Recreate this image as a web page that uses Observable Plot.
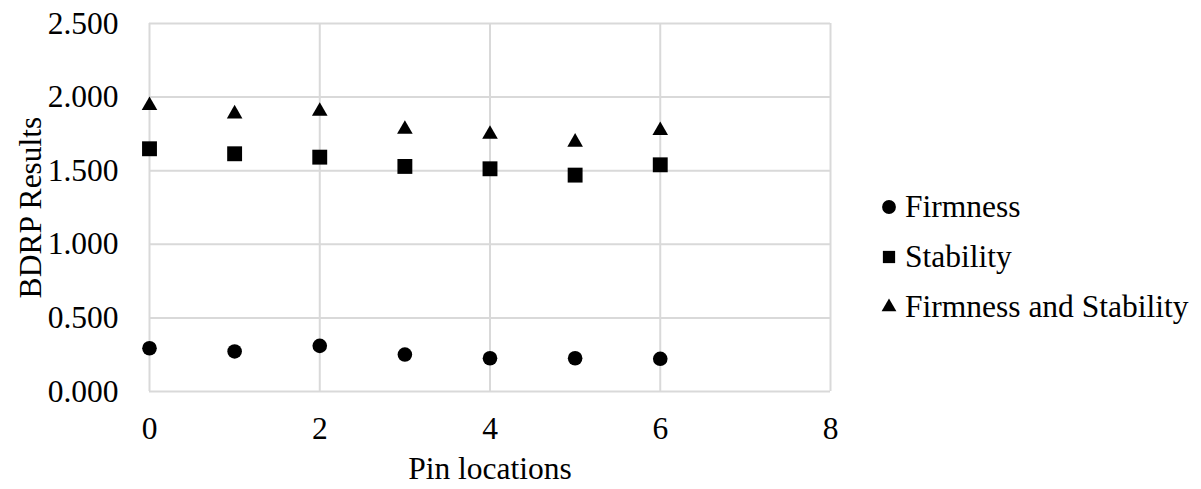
<!DOCTYPE html>
<html>
<head>
<meta charset="utf-8">
<script src="https://cdn.jsdelivr.net/npm/d3@7"></script>
<script src="https://cdn.jsdelivr.net/npm/@observablehq/plot@0.6"></script>
<style>
  html, body { margin: 0; padding: 0; background: #fff; }
  #chart { width: 1201px; height: 489px; }
</style>
</head>
<body>
<div id="chart"></div>
<script>
const pins = [0, 1, 2, 3, 4, 5, 6];
const firmness = [0.294, 0.272, 0.310, 0.251, 0.226, 0.226, 0.222];
const stability = [1.649, 1.615, 1.592, 1.529, 1.513, 1.470, 1.540];
const firmStab = [1.943, 1.886, 1.904, 1.781, 1.748, 1.694, 1.773];
const seriesNames = ["Firmness", "Stability", "Firmness and Stability"];
const seriesSymbols = ["circle", "square", "triangle"];
const xTicks = [0, 2, 4, 6, 8];
const yTicks = [0, 0.5, 1, 1.5, 2, 2.5];
const xLabel = "Pin locations";
const yLabel = "BDRP Results";

const seriesValues = [firmness, stability, firmStab];
const data = seriesValues.flatMap((vals, s) =>
  pins.map((p, i) => ({ pin: p, value: vals[i], series: seriesNames[s] })));

const font = "'Liberation Serif', 'Times New Roman', serif";
const fontSize = 31.5;
const grid = "#d9d9d9";

const svg = Plot.plot({
  width: 1201,
  height: 489,
  marginLeft: 149,
  marginRight: 371,
  marginTop: 23,
  marginBottom: 98,
  style: { fontFamily: font, fontSize: fontSize + "px", color: "#000", background: "#fff", overflow: "visible" },
  x: { domain: [0, 8], ticks: xTicks, label: null },
  y: { domain: [0, 2.5], ticks: yTicks, label: null },
  marks: [
    Plot.ruleX(xTicks, { x: d => d, stroke: grid, strokeWidth: 2 }),
    Plot.ruleY(yTicks, { y: d => d, stroke: grid, strokeWidth: 2 }),
    Plot.axisX({ ticks: xTicks, tickSize: 0, tickPadding: 25, label: null, fill: "#000" }),
    Plot.axisY({ ticks: yTicks, tickSize: 0, tickPadding: 31, label: null, tickFormat: d3.format(".3f"), fill: "#000" }),
    Plot.dot(data.filter(d => d.series === seriesNames[0]), { x: "pin", y: "value", symbol: "circle", r: 7.3, fill: "#000" }),
    Plot.dot(data.filter(d => d.series === seriesNames[1]), { x: "pin", y: "value", symbol: "square", r: 8.4, fill: "#000" }),
    Plot.dot(data.filter(d => d.series === seriesNames[2]), { x: "pin", y: "value", symbol: "triangle", r: 5.8, fill: "#000" }),
    Plot.text([xLabel], { text: d => d, frameAnchor: "bottom", dy: 77, textAnchor: "middle", lineAnchor: "middle", fill: "#000" }),
    Plot.text([yLabel], { text: d => d, frameAnchor: "left", dx: -119, rotate: -90, textAnchor: "middle", lineAnchor: "middle", fill: "#000" })
  ]
});

// Legend on the right, inside the same SVG
const legend = d3.select(svg).append("g")
  .attr("font-family", font).attr("font-size", fontSize).attr("fill", "#000")
  .attr("text-anchor", "start");
const legendSizes = [150, 150, 95];
seriesNames.forEach((name, i) => {
  const cy = 207 + i * 50;
  legend.append("path")
    .attr("d", d3.symbol(d3["symbol" + seriesSymbols[i][0].toUpperCase() + seriesSymbols[i].slice(1)], legendSizes[i])())
    .attr("transform", `translate(889,${cy})`)
    .attr("fill", "#000");
  legend.append("text")
    .attr("x", 905).attr("y", cy).attr("dy", "0.32em")
    .attr("text-anchor", "start")
    .text(name);
});

document.getElementById("chart").appendChild(svg);
</script>
</body>
</html>
